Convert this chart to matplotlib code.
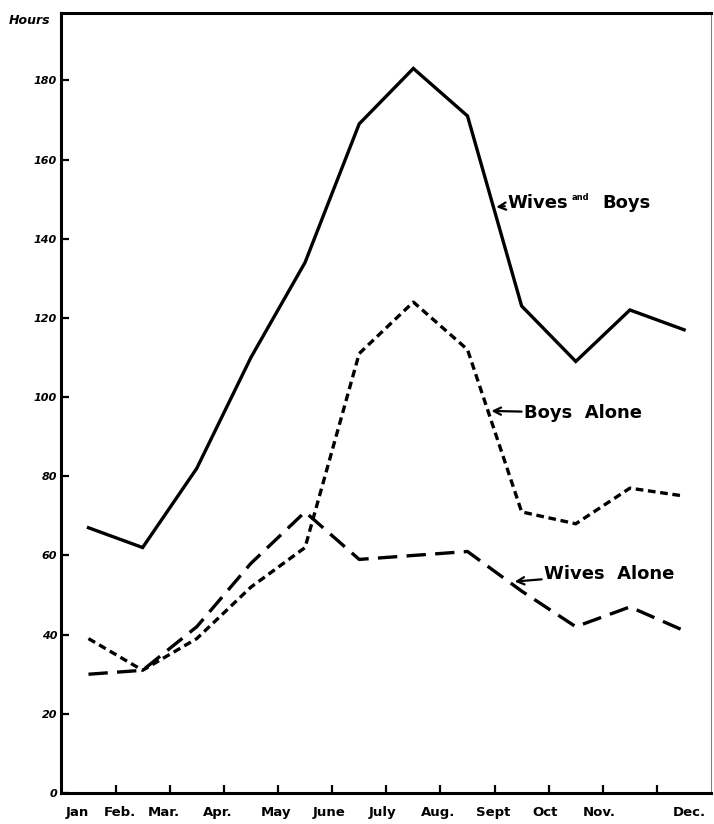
import matplotlib.pyplot as plt
import numpy as np

months = ['Jan', 'Feb.', 'Mar.', 'Apr.', 'May', 'June', 'July', 'Aug.', 'Sept', 'Oct', 'Nov.', 'Dec.']
wives_and_boys = [67, 62, 82, 110, 134, 169, 183, 171, 123, 109, 122, 117]
boys_alone = [39, 31, 39, 52, 62, 111, 124, 112, 71, 68, 77, 75]
wives_alone = [30, 31, 42, 58, 71, 59, 60, 61, 51, 42, 47, 41]
y_ticks = [0, 20, 40, 60, 80, 100, 120, 140, 160, 180]

# hand lettered labels sit a bit irregular under the axis
label_pos = [0.3, 1.08, 1.89, 2.89, 3.96, 4.94, 5.93, 6.95, 7.98, 8.94, 9.94, 11.6]

fig = plt.figure(figsize=(7.14, 8.24), dpi=100)
ax = fig.add_axes([0.086, 0.0376, 0.910, 0.9466])

x = np.arange(len(months)) + 0.5
ax.plot(x, wives_and_boys, color='black', lw=2.4, solid_joinstyle='miter')
ax.plot(x, boys_alone, color='black', lw=2.4, dashes=(2.3, 1.4))
ax.plot(x, wives_alone, color='black', lw=2.4, dashes=(5.8, 2.8))

ax.set_xlim(0, 12)
ax.set_ylim(0, 197)

ax.set_yticks(y_ticks)
ax.set_yticklabels([str(v) for v in y_ticks], fontsize=8, fontweight='bold', style='italic')
ax.tick_params(axis='y', direction='in', length=6, width=1.6, pad=3)

ax.set_xticks(range(1, 12))
ax.set_xticklabels([])
ax.tick_params(axis='x', which='major', direction='in', length=6, width=1.6)
ax.set_xticks(label_pos, minor=True)
ax.set_xticklabels(months, minor=True, fontsize=9.5, fontweight='bold')
ax.tick_params(axis='x', which='minor', length=0, pad=9)

for side in ['left', 'bottom', 'top']:
    ax.spines[side].set_linewidth(2.2)
ax.spines['right'].set_linewidth(0.8)
ax.spines['right'].set_color('gray')

arrow = dict(arrowstyle='->', color='black', lw=1.6, shrinkA=0, shrinkB=0)
txt = dict(fontsize=13, fontweight='bold', va='center', ha='left')

ax.annotate('Wives', xy=(8.03, 148.0), xytext=(8.24, 149.0), arrowprops=arrow, **txt)
ax.text(9.42, 150.5, 'and', fontsize=6, fontweight='bold', va='center', ha='left')
ax.text(9.99, 149.0, 'Boys', **txt)

ax.annotate('Boys  Alone', xy=(7.94, 96.5), xytext=(8.55, 96.0), arrowprops=arrow, **txt)
ax.annotate('Wives  Alone', xy=(8.37, 53.4), xytext=(8.92, 55.4), arrowprops=arrow, **txt)

fig.text(0.012, 1 - 21 / 824, 'Hours', fontsize=9, fontweight='bold', style='italic',
         va='center', ha='left')

fig.savefig('out.png', dpi=100)
